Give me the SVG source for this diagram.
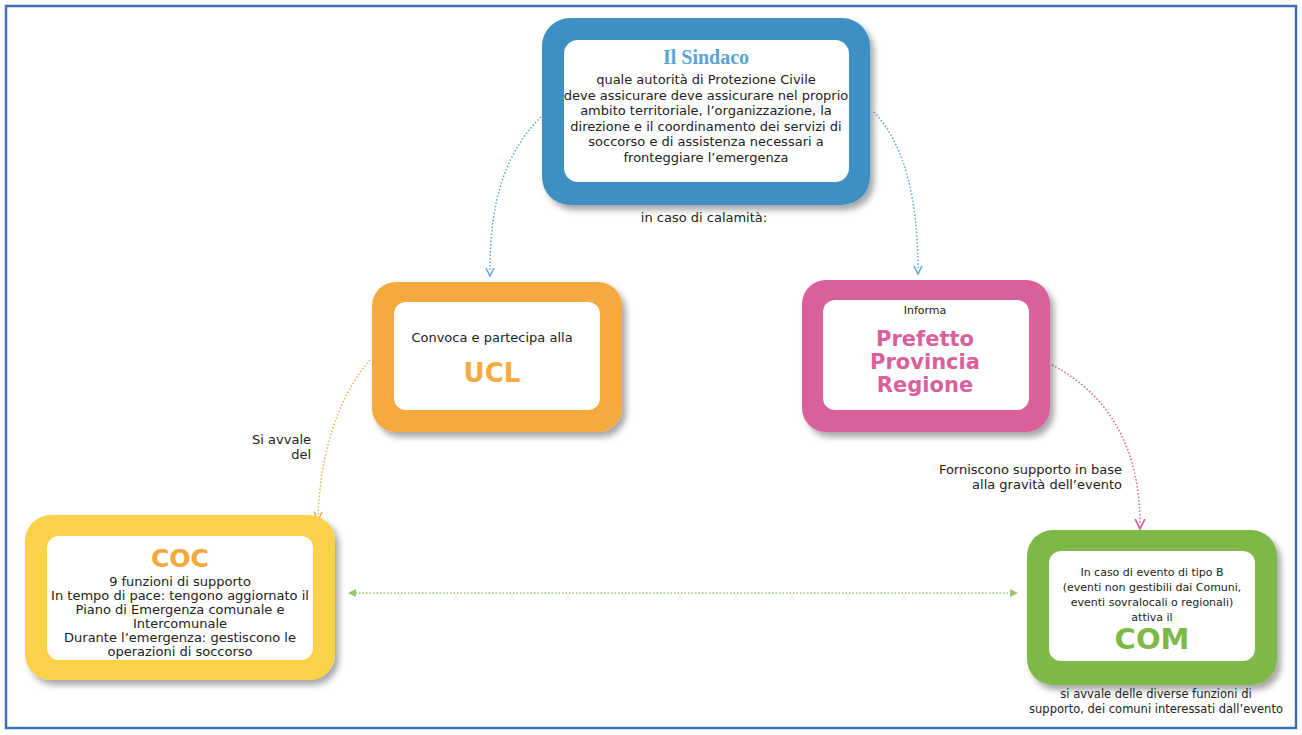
<svg xmlns="http://www.w3.org/2000/svg" width="1302" height="735" viewBox="0 0 1302 735">
<defs>
<filter id="sh" x="-10%" y="-10%" width="125%" height="130%">
<feDropShadow dx="4" dy="5" stdDeviation="3" flood-color="#000" flood-opacity="0.35"/>
</filter>
<marker id="aBlue" viewBox="0 0 10 10" refX="5" refY="5" markerWidth="10" markerHeight="10" orient="auto" markerUnits="userSpaceOnUse"><path d="M1,1 L9,5 L1,9" fill="none" stroke="#5aa7d8" stroke-width="1.5"/></marker>
<marker id="aOrange" viewBox="0 0 10 10" refX="5" refY="5" markerWidth="10" markerHeight="10" orient="auto" markerUnits="userSpaceOnUse"><path d="M1,1 L9,5 L1,9" fill="none" stroke="#f0b050" stroke-width="1.5"/></marker>
<marker id="aPink" viewBox="0 0 10 10" refX="5" refY="5" markerWidth="12" markerHeight="12" orient="auto" markerUnits="userSpaceOnUse"><path d="M1,1 L9,5 L1,9" fill="none" stroke="#d9609a" stroke-width="1.5"/></marker>
<marker id="aGreen" viewBox="0 0 10 10" refX="5" refY="5" markerWidth="10" markerHeight="10" orient="auto-start-reverse" markerUnits="userSpaceOnUse"><path d="M1,1 L9,5 L1,9 Z" fill="#9cc66a"/></marker>
</defs>
<style>
.t{font-family:"DejaVu Sans",Verdana,sans-serif;font-size:13px;fill:#222;text-anchor:middle}
.s{font-size:11px}
.lbl{font-family:"DejaVu Sans",Verdana,sans-serif;font-size:13px;fill:#222;text-anchor:end}
.big{font-family:"DejaVu Sans",Verdana,sans-serif;font-weight:bold;text-anchor:middle}
.inner{fill:#fff}
.conn{fill:none;stroke-width:1.5;stroke-dasharray:1.5 2}
</style>
<rect x="0" y="0" width="1302" height="735" fill="#fff"/>
<rect x="6" y="6" width="1290" height="722" fill="none" stroke="#3f6fb8" stroke-width="2.5"/>

<g id="connectors">
<path class="conn" stroke="#5aa7d8" d="M546 112 C505 150 490 200 490 272" marker-end="url(#aBlue)"/>
<path class="conn" stroke="#5aa7d8" d="M874 112 C905 145 918 200 918 270" marker-end="url(#aBlue)"/>
<path class="conn" stroke="#f0b050" d="M370 360 C335 400 320 460 318 516" marker-end="url(#aOrange)"/>
<path class="conn" stroke="#d9609a" d="M1052 365 C1110 395 1140 450 1140 524" marker-end="url(#aPink)"/>
<path class="conn" stroke="#9cc66a" d="M352 593 L1014 593" marker-start="url(#aGreen)" marker-end="url(#aGreen)"/>
</g>

<g id="sindaco">
<rect x="542" y="18" width="328" height="187" rx="28" fill="#3d8fc4" filter="url(#sh)"/>
<rect x="564" y="40" width="285" height="142" rx="14" class="inner"/>
<text x="706" y="64" text-anchor="middle" font-family="Liberation Serif,serif" font-weight="bold" font-size="20" fill="#5aa5d5">Il Sindaco</text>
<text class="t" x="706" y="84">quale autorità di Protezione Civile</text>
<text class="t" x="706" y="99.5">deve assicurare deve assicurare nel proprio</text>
<text class="t" x="706" y="115">ambito territoriale, l’organizzazione, la</text>
<text class="t" x="706" y="130.5">direzione e il coordinamento dei servizi di</text>
<text class="t" x="706" y="146">soccorso e di assistenza necessari a</text>
<text class="t" x="706" y="161.5">fronteggiare l’emergenza</text>
</g>
<text class="t" x="704" y="222">in caso di calamità:</text>

<g id="ucl">
<rect x="372" y="282" width="250" height="150" rx="24" fill="#f5aa40" filter="url(#sh)"/>
<rect x="394" y="302" width="206" height="108" rx="12" class="inner"/>
<text class="t" x="492" y="342">Convoca e partecipa alla</text>
<text class="big" x="492" y="382" font-size="26" fill="#f5aa40">UCL</text>
</g>

<g id="prefetto">
<rect x="802" y="280" width="248" height="152" rx="24" fill="#d9609a" filter="url(#sh)"/>
<rect x="823" y="300" width="206" height="110" rx="12" class="inner"/>
<text class="t s" x="925" y="314">Informa</text>
<text class="big" x="925" y="346" font-size="21" fill="#d9609a">Prefetto</text>
<text class="big" x="925" y="369" font-size="21" fill="#d9609a">Provincia</text>
<text class="big" x="925" y="392" font-size="21" fill="#d9609a">Regione</text>
</g>

<g id="coc">
<rect x="25" y="515" width="310" height="165" rx="26" fill="#f9d24a" filter="url(#sh)"/>
<rect x="47" y="536" width="266" height="124" rx="12" class="inner"/>
<text class="big" x="180" y="567" font-size="25" fill="#f5a83a">COC</text>
<text class="t" x="180" y="586">9 funzioni di supporto</text>
<text class="t" x="180" y="600">In tempo di pace: tengono aggiornato il</text>
<text class="t" x="180" y="614">Piano di Emergenza comunale e</text>
<text class="t" x="180" y="628">Intercomunale</text>
<text class="t" x="180" y="642">Durante l’emergenza: gestiscono le</text>
<text class="t" x="180" y="656">operazioni di soccorso</text>
</g>
<text class="lbl" x="311" y="444">Si avvale</text>
<text class="lbl" x="311" y="459">del</text>

<g id="com">
<rect x="1027" y="530" width="250" height="155" rx="26" fill="#7db84a" filter="url(#sh)"/>
<rect x="1049" y="551" width="206" height="110" rx="12" class="inner"/>
<text class="t s" x="1152" y="576">In caso di evento di tipo B</text>
<text class="t s" x="1152" y="591">(eventi non gestibili dai Comuni,</text>
<text class="t s" x="1152" y="606">eventi sovralocali o regionali)</text>
<text class="t s" x="1152" y="621">attiva il</text>
<text class="big" x="1152" y="649" font-size="29" fill="#7db84a">COM</text>
</g>
<text class="t" x="1156" y="698" style="font-size:11.5px">si avvale delle diverse funzioni di</text>
<text class="t" x="1156" y="713" style="font-size:11.5px">supporto, dei comuni interessati dall’evento</text>
<text class="lbl" x="1122" y="474">Forniscono supporto in base</text>
<text class="lbl" x="1122" y="489">alla gravità dell’evento</text>
</svg>
